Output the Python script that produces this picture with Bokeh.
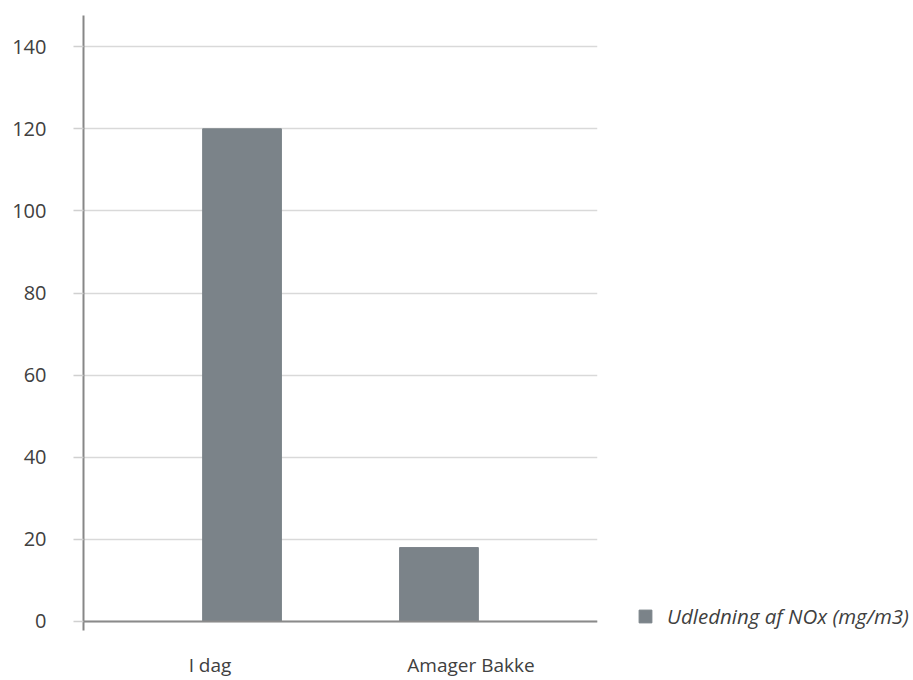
from bokeh.plotting import figure
from bokeh.models import (Range1d, FactorRange, FixedTicker, Span, Legend, LegendItem,
                          CategoricalAxis)
from bokeh.embed import file_html
from bokeh.resources import INLINE

categories = ["I dag", "Amager Bakke"]
values = [120, 18]
y_ticks = [0, 20, 40, 60, 80, 100, 120, 140]
series_name = "Udledning af NOx (mg/m3)"

BAR = "#7b8389"
TXT = "#404040"
FONT = "Open Sans"

p = figure(
    frame_width=514, frame_height=615,
    x_range=FactorRange(factors=categories, range_padding=0.305, range_padding_units="absolute"),
    y_range=Range1d(-2.2, 147.6),
    x_axis_location=None,
    output_backend="svg", toolbar_location=None,
    min_border_left=83, min_border_right=0, min_border_top=15, min_border_bottom=46,
)
p.outline_line_color = None
p.background_fill_color = "white"
p.border_fill_color = "white"

r = p.vbar(x=categories, top=values, bottom=0, width=0.40,
           fill_color=BAR, line_color=BAR)

# grid
p.xgrid.grid_line_color = None
p.ygrid.ticker = FixedTicker(ticks=y_ticks)
p.ygrid.grid_line_color = "#d9d9d9"
p.ygrid.grid_line_width = 1.5

# y axis
p.yaxis.ticker = FixedTicker(ticks=y_ticks)
p.yaxis.axis_line_color = "#878787"
p.yaxis.axis_line_width = 2
p.yaxis.major_tick_out = 10
p.yaxis.major_tick_in = 0
p.yaxis.major_tick_line_color = "#d0d0d0"
p.yaxis.major_tick_line_width = 1.5
p.yaxis.minor_tick_line_color = None
p.yaxis.major_label_text_font = FONT
p.yaxis.major_label_text_font_size = "20px"
p.yaxis.major_label_text_color = TXT
p.yaxis.major_label_standoff = 27

# baseline
p.add_layout(Span(location=0, dimension="width", line_color="#8a8a8a", line_width=2))

# category labels: own factor range, spaced as in the reference
p.extra_x_ranges = {"lab": FactorRange(factors=categories, range_padding=0,
                                       factor_padding=0.0316)}
lab_axis = CategoricalAxis(
    x_range_name="lab",
    axis_line_color=None,
    major_tick_line_color=None,
    minor_tick_line_color=None,
    major_tick_out=0, major_tick_in=0,
    major_label_standoff=21,
    major_label_text_font=FONT,
    major_label_text_font_size="19px",
    major_label_text_color=TXT,
)
p.add_layout(lab_axis, "below")

legend = Legend(
    items=[LegendItem(label=series_name, renderers=[r])],
    location=(40, 0),
    orientation="vertical",
    glyph_width=16, glyph_height=16,
    label_standoff=14,
    padding=0, margin=0, spacing=0,
    border_line_color=None,
    background_fill_alpha=0,
    label_text_font=FONT,
    label_text_font_style="italic",
    label_text_font_size="20.5px",
    label_text_color=TXT,
)
p.add_layout(legend, "right")

open("out.html", "w").write(file_html(p, INLINE))
